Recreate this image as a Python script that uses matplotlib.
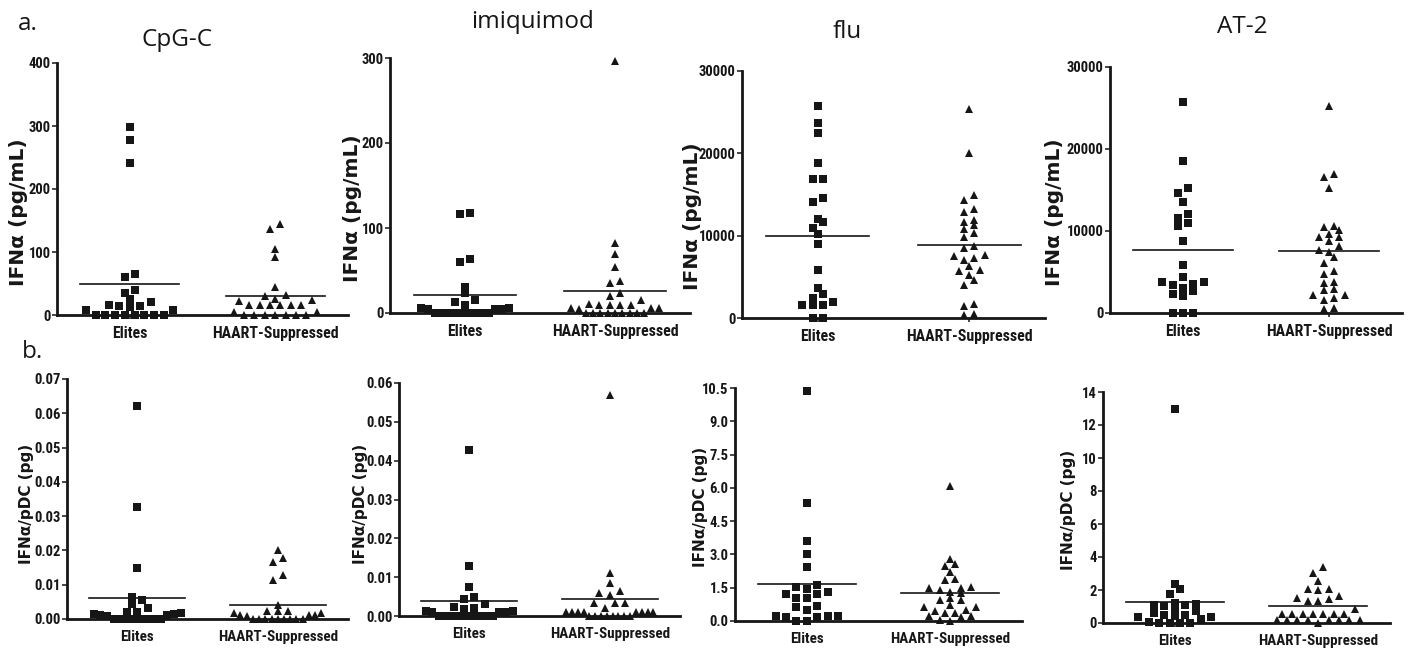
import os
import numpy as np
import matplotlib
matplotlib.use("Agg")
import matplotlib.pyplot as plt
from matplotlib import font_manager as fm

W, H, DPI = 1412, 658, 100

groups = ["Elites", "HAART-Suppressed"]
stimuli = ["CpG-C", "imiquimod", "flu", "AT-2"]

# ---- IFN-alpha released (pg/mL) ----
cpg_elites = [298, 278, 241, 65, 60, 40, 35, 25, 21, 15, 14, 16, 12, 8, 8,
              0, 0, 0, 0, 0, 0, 0, 0]
cpg_haart = [144, 137, 104, 92, 44, 30, 24, 23, 26, 32, 16, 16, 16, 16, 16, 16,
             5, 5, 0, 0, 0, 0, 0, 0, 0]
imq_elites = [118, 117, 64, 60, 31, 23, 15, 13, 9, 6, 6, 5, 5, 5,
              0, 0, 0, 0, 0, 0, 0, 0, 0]
imq_haart = [297, 82, 70, 54, 38, 35, 24, 20, 15, 10, 10, 10, 10, 11,
             6, 6, 6, 5, 0, 0, 0, 0, 0, 0, 0, 0, 0]
flu_elites = [25750, 23650, 22520, 18800, 16900, 16900, 14550, 14070, 12050,
              11600, 10960, 10230, 8980, 5780, 3680, 2910, 2390, 1940, 1620,
              1540, 1540, 0, 0]
flu_haart = [25350, 20090, 14880, 14350, 13220, 12820, 11890, 11720, 11320,
             10840, 10310, 9820, 8690, 8490, 7680, 7560, 7280, 7080, 6270,
             5660, 5780, 5260, 4650, 3960, 1740, 1420, 530, 400]
at2_elites = [25740, 18570, 15280, 14590, 13580, 12080, 11030, 10660, 11550,
              8840, 5800, 3040, 3770, 3570, 3770, 4380, 3370, 2310, 2110, 2640,
              0, 0, 0]
at2_haart = [25220, 16950, 16540, 15200, 10620, 10460, 10140, 9650, 9240, 9240,
             8840, 8110, 7700, 7500, 6810, 6080, 5070, 4780, 3650, 3730, 2920,
             2760, 2230, 2230, 1820, 1540, 610, 490]

# ---- IFN-alpha per pDC (pg) ----
cpg_pdc_elites = [0.0621, 0.0326, 0.0148, 0.0064, 0.0054, 0.0045, 0.0032,
                  0.0017, 0.0016, 0.0013, 0.0013, 0.0016, 0.0019, 0.0021, 0.0008,
                  0, 0, 0, 0, 0, 0, 0, 0]
cpg_pdc_haart = [0.0202, 0.0178, 0.0166, 0.0129, 0.0115, 0.0042, 0.0022, 0.0022,
                 0.0017, 0.0013, 0.0013, 0.0010, 0.0013, 0.0017, 0.0022,
                 0, 0, 0, 0, 0, 0, 0, 0, 0]
imq_pdc_elites = [0.0428, 0.0129, 0.0075, 0.0044, 0.0049, 0.0031, 0.0022,
                  0.0018, 0.0020, 0.0010, 0.0010, 0.0010, 0.0012, 0.0012,
                  0, 0, 0, 0, 0, 0, 0, 0, 0]
imq_pdc_haart = [0.0570, 0.0111, 0.0085, 0.0064, 0.0054, 0.0059, 0.0033, 0.0033,
                 0.0033, 0.0020, 0.0010, 0.0010, 0.0010, 0.0010, 0.0010, 0.0010,
                 0.0010, 0.0010, 0, 0, 0, 0, 0, 0, 0, 0]
flu_pdc_elites = [10.35, 5.34, 3.61, 3.00, 2.42, 1.61, 1.53, 1.30, 1.23, 1.23,
                  1.45, 1.04, 1.04, 0.61, 0.69, 0.51, 0.23, 0.17, 0.23, 0.23,
                  0.17, 0, 0]
flu_pdc_haart = [6.08, 2.80, 2.50, 2.57, 2.19, 1.88, 1.85, 1.53, 1.47, 1.32,
                 1.04, 1.27, 1.38, 1.47, 0.96, 0.70, 0.61, 0.51, 0.61, 0.93,
                 0.38, 0.35, 0.46, 0.23, 0.20, 0.23, 0, 0.03]
at2_pdc_elites = [13.0, 2.36, 2.08, 1.76, 1.21, 1.07, 1.05, 1.07, 1.17, 0.71,
                  0.61, 0.81, 0.50, 0.50, 0.44, 0.36, 0.36, 0.24, 0.04,
                  0, 0, 0, 0]
at2_pdc_haart = [3.39, 3.03, 2.53, 2.06, 1.98, 2.06, 1.45, 1.31, 1.62, 1.31,
                 1.52, 0.85, 0.55, 0.55, 0.55, 0.55, 0.55, 0.55, 0.55,
                 0.20, 0.20, 0.20, 0.20, 0.20, 0.20, 0.20, 0.20, 0]

# y-axis ticks per panel
ticks_conc = [[0, 100, 200, 300, 400], [0, 100, 200, 300],
              [0, 10000, 20000, 30000], [0, 10000, 20000, 30000]]
ticks_pdc = [[0, 0.01, 0.02, 0.03, 0.04, 0.05, 0.06, 0.07],
             [0, 0.01, 0.02, 0.03, 0.04, 0.05, 0.06],
             [0, 1.5, 3.0, 4.5, 6.0, 7.5, 9.0, 10.5],
             [0, 2, 4, 6, 8, 10, 12, 14]]
fmt_conc = ["{:.0f}"] * 4
fmt_pdc = ["{:.2f}", "{:.2f}", "{:.1f}", "{:.0f}"]

conc_data = [(cpg_elites, cpg_haart), (imq_elites, imq_haart),
             (flu_elites, flu_haart), (at2_elites, at2_haart)]
pdc_data = [(cpg_pdc_elites, cpg_pdc_haart), (imq_pdc_elites, imq_pdc_haart),
            (flu_pdc_elites, flu_pdc_haart), (at2_pdc_elites, at2_pdc_haart)]

# panel boxes in pixels: left, right, top, bottom
boxes_top = [(57, 348, 63, 315), (390, 690, 58, 313),
             (742, 1045, 71, 318), (1110, 1402, 67, 313)]
boxes_bot = [(67, 348, 379, 619), (399, 680, 383, 616),
             (735, 1022, 388, 621), (1103, 1390, 392, 623)]
ylabel_top_pos = [(19, 212), (352, 208), (692, 216), (1054, 212)]
ylabel_bot_pos = [(27, 504), (360, 504), (700, 507), (1068, 510)]
title_pos = [(177, 40), (533, 22), (847, 32), (1242, 27)]

INK = "#161616"


def find_narrow_bold():
    """Return the file of a condensed bold sans face, if one is installed."""
    wanted = ["liberationsansnarrow-bold.", "arialnarrow-bold", "arial narrow bold",
              "arialnb", "robotocondensed-bold.", "dejavusanscondensed-bold.",
              "notosans-condensedbold.", "opensans-condbold.",
              "opensans_condensed-bold", "opensanscondensed-bold",
              "notosans-semicondensedbold."]
    entries = [(os.path.basename(f.fname).lower(), f.fname)
               for f in fm.fontManager.ttflist]
    for key in wanted:
        for base, path in entries:
            if key in base:
                return path
    for base, path in entries:
        if ("narrow" in base or "condensed" in base) and "bold" in base \
                and "italic" not in base and "extra" not in base:
            return path
    return None


NARROW_FILE = find_narrow_bold()


def narrow(size):
    if NARROW_FILE:
        return fm.FontProperties(fname=NARROW_FILE, size=size)
    return fm.FontProperties(family=["Liberation Sans", "DejaVu Sans"],
                             weight="bold", size=size * 0.85)


def fig_rect(box):
    l, r, t, b = box
    return [l / W, 1 - b / H, (r - l) / W, (b - t) / H]


def swarm(ax, xc, values, row_px=6.0, step_px=10.4, max_half=4.2, clash_px=3.6):
    """Column-scatter layout: points are grouped into rows of similar height,
    each row is centred on the column, and rows are nudged sideways when they
    would sit on top of the row beneath."""
    vals = np.asarray(values, dtype=float)
    ys = ax.transData.transform(np.column_stack([np.full(len(vals), xc), vals]))[:, 1]
    order = np.argsort(ys, kind="stable")
    rows = []
    for i in order:
        if rows and ys[i] - ys[rows[-1][0]] < row_px:
            rows[-1].append(i)
        else:
            rows.append([i])
    offs = np.zeros(len(vals))
    placed = []
    for row in rows:
        n = len(row)
        spacing = 1.0 if n <= 1 else min(1.0, 2 * max_half / (n - 1))
        base = (np.arange(n) - (n - 1) / 2) * spacing
        slot_order = sorted(range(n), key=lambda j: (abs(base[j]), base[j]))
        best = None
        for shift in (0, 0.5, -0.5, 1, -1, 1.5, -1.5):
            cost = 0
            for pos, j in enumerate(slot_order):
                y = ys[row[pos]]
                x = base[j] + shift
                for yy, xx in placed:
                    if abs(yy - y) < clash_px and abs(xx - x) < 0.9:
                        cost += 1
            if best is None or cost < best[0]:
                best = (cost, shift)
        for pos, j in enumerate(slot_order):
            offs[row[pos]] = base[j] + best[1]
        placed.extend((ys[i], offs[i]) for i in row)
    x0 = ax.transData.transform([(0, 0)])[0, 0]
    x1 = ax.transData.transform([(1, 0)])[0, 0]
    return xc + offs * step_px / (x1 - x0)


def draw_panel(box, data, yticks, fmt, ylabel, ylabel_pos, ylabel_size, cat_size):
    ax = fig.add_axes(fig_rect(box))
    ax.set_xlim(0.5, 2.5)
    ax.set_ylim(0, yticks[-1])
    for side in ("top", "right"):
        ax.spines[side].set_visible(False)
    for side in ("left", "bottom"):
        ax.spines[side].set_linewidth(2.0)
        ax.spines[side].set_color(INK)
    ax.set_yticks(yticks)
    ax.set_yticklabels([fmt.format(t) for t in yticks], fontproperties=narrow(10.5),
                       color=INK)
    ax.set_xticks([1, 2])
    ax.set_xticklabels(groups, fontproperties=narrow(cat_size), color=INK)
    ax.tick_params(axis="y", length=3.5, width=1.1, pad=1, color=INK)
    ax.tick_params(axis="x", length=3, width=1.1, pad=5, color=INK)

    for xc, vals, marker, ms in ((1, data[0], "s", 5.4), (2, data[1], "^", 6.4)):
        xs = swarm(ax, xc, vals)
        ax.plot(xs, vals, linestyle="none", marker=marker, markersize=ms,
                color=INK, markeredgewidth=0, clip_on=False, zorder=4)
        m = np.mean(vals)
        ax.plot([xc - 0.34, xc + 0.34], [m, m], color=INK, lw=1.2, zorder=3)

    fig.text(ylabel_pos[0] / W, 1 - ylabel_pos[1] / H, ylabel, rotation=90,
             ha="center", va="center", fontsize=ylabel_size, fontweight="bold",
             family=["DejaVu Sans"], color=INK)
    return ax


fig = plt.figure(figsize=(W / DPI, H / DPI), dpi=DPI)
fig.patch.set_facecolor("white")

for i in range(4):
    draw_panel(boxes_top[i], conc_data[i], ticks_conc[i], fmt_conc[i],
               "IFN\u03b1 (pg/mL)", ylabel_top_pos[i], 14.5, 11.4)
    draw_panel(boxes_bot[i], pdc_data[i], ticks_pdc[i], fmt_pdc[i],
               "IFN\u03b1/pDC (pg)", ylabel_bot_pos[i], 11, 10.8)
    fig.text(title_pos[i][0] / W, 1 - title_pos[i][1] / H, stimuli[i],
             ha="center", va="center", fontsize=17.5,
             family=["Open Sans", "DejaVu Sans"], color=INK)

fig.text(28 / W, 1 - 24 / H, "a.", ha="center", va="center", fontsize=17.5,
         family=["Open Sans", "DejaVu Sans"], color=INK)
fig.text(32 / W, 1 - 352 / H, "b.", ha="center", va="center", fontsize=17.5,
         family=["Open Sans", "DejaVu Sans"], color=INK)

fig.savefig("out.png", dpi=DPI, facecolor="white")
